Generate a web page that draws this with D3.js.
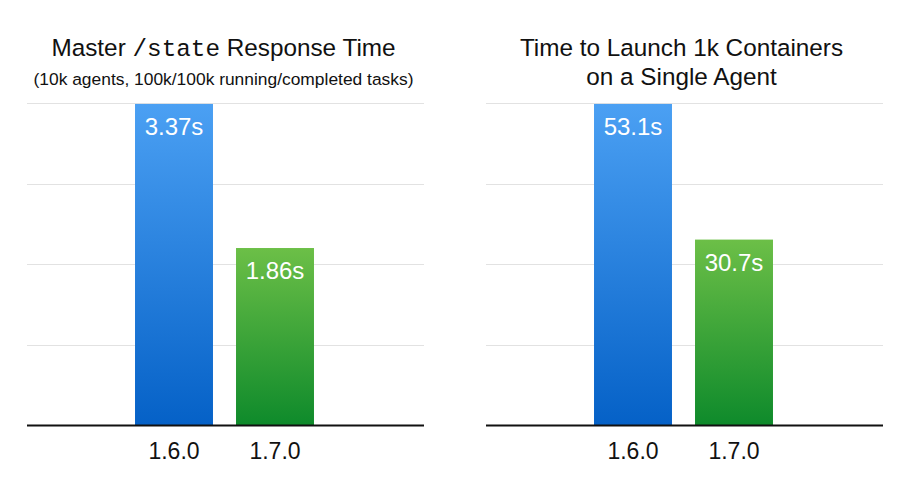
<!DOCTYPE html>
<html><head><meta charset="utf-8">
<script src="https://cdn.jsdelivr.net/npm/d3@7"></script>
<style>
html,body{margin:0;padding:0;background:#fff;}
svg{display:block;}
</style>
</head><body>
<div id="chart"></div>
<script>
const categories = ["1.6.0", "1.7.0"];
const stateValues = [3.37, 1.86];
const launchValues = [53.1, 30.7];
const stateLabels = ["3.37s", "1.86s"];
const launchLabels = ["53.1s", "30.7s"];
const gridDivisions = 4;

const W = 908, H = 502;
const svg = d3.select("#chart").append("svg").attr("width", W).attr("height", H);
const defs = svg.append("defs");
function grad(id, top, bottom) {
  const g = defs.append("linearGradient").attr("id", id)
    .attr("x1", 0).attr("y1", 0).attr("x2", 0).attr("y2", 1);
  g.append("stop").attr("offset", "0%").attr("stop-color", top);
  g.append("stop").attr("offset", "100%").attr("stop-color", bottom);
}
grad("gBlue", "#4ba0f3", "#0561c7");
grad("gGreen", "#6cbf47", "#0e8a2b");
const fills = ["url(#gBlue)", "url(#gGreen)"];

const panelW = 397;
const font = "'Liberation Sans', Arial, Helvetica, sans-serif";

function panel(x0, values, labels, titleFn) {
  const g = svg.append("g").attr("transform", `translate(${x0},0)`);
  const max = d3.max(values);
  const y = d3.scaleLinear().domain([0, max * 1.002]).range([425.5, 103.3]);
  const x = d3.scaleBand().domain(categories).range([96.5, 298.5])
    .paddingInner(0.228).paddingOuter(0.114);
  const ticks = d3.range(1, gridDivisions + 1).map(i => y.domain()[1] * i / gridDivisions);
  g.selectAll("line.grid").data(ticks).join("line").attr("class", "grid")
    .attr("x1", 0).attr("x2", panelW)
    .attr("y1", d => Math.round(y(d)) + 0.5).attr("y2", d => Math.round(y(d)) + 0.5)
    .attr("stroke", "#e2e2e2").attr("stroke-width", 1.2);
  g.selectAll("rect.bar").data(values).join("rect").attr("class", "bar")
    .attr("x", (d, i) => x(categories[i])).attr("width", x.bandwidth())
    .attr("y", d => y(d)).attr("height", d => y(0) - y(d))
    .attr("fill", (d, i) => fills[i]);
  g.selectAll("text.val").data(values).join("text").attr("class", "val")
    .attr("x", (d, i) => x(categories[i]) + x.bandwidth() / 2)
    .attr("y", d => y(d) + 31)
    .attr("text-anchor", "middle").attr("fill", "#fff")
    .attr("font-family", font).attr("font-size", 24)
    .text((d, i) => labels[i]);
  const axis = g.append("g").attr("transform", `translate(0,${y(0)})`)
    .call(d3.axisBottom(x).tickSize(0).tickPadding(17));
  axis.select(".domain").attr("d", `M0,0H${panelW}`).attr("stroke", "#111").attr("stroke-width", 2);
  axis.selectAll(".tick text").attr("font-family", font).attr("font-size", 23).attr("fill", "#111")
    .attr("dy", "0.71em");
  titleFn(g);
}

const cx = 197.5;
panel(27, stateValues, stateLabels, g => {
  const t = g.append("text").attr("x", cx - 1).attr("y", 56).attr("text-anchor", "middle")
    .attr("font-family", font).attr("font-size", 24.3).attr("fill", "#111");
  t.append("tspan").text("Master ");
  t.append("tspan").attr("font-family", "'Liberation Mono', 'Courier New', monospace").text("/state");
  t.append("tspan").text(" Response Time");
  g.append("text").attr("x", cx - 1).attr("y", 84.5).attr("text-anchor", "middle")
    .attr("font-family", font).attr("font-size", 17.4).attr("fill", "#111")
    .text("(10k agents, 100k/100k running/completed tasks)");
});
panel(486, launchValues, launchLabels, g => {
  const t = g.append("text").attr("x", cx - 2).attr("y", 56).attr("text-anchor", "middle")
    .attr("font-family", font).attr("font-size", 24.3).attr("fill", "#111");
  t.append("tspan").attr("x", cx - 2).text("Time to Launch 1k Containers");
  t.append("tspan").attr("x", cx - 2).attr("y", 85).text("on a Single Agent");
});
</script>
</body></html>
